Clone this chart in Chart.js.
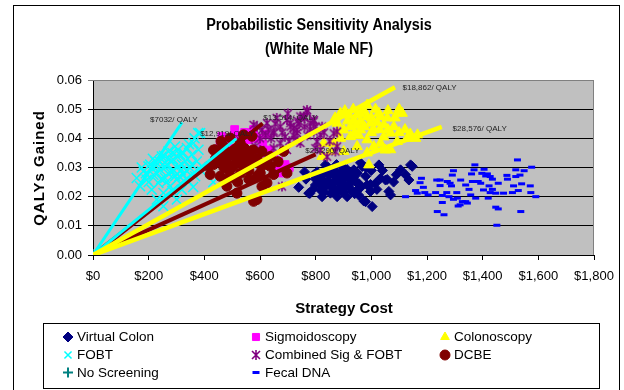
<!DOCTYPE html>
<html>
<head>
<meta charset="utf-8">
<script src="https://cdn.jsdelivr.net/npm/chart.js@4.4.1/dist/chart.umd.min.js"></script>
<style>
  html, body { margin: 0; padding: 0; background: #fff; }
</style>
</head>
<body>
<canvas id="psa" width="624" height="390"></canvas>
<script>
// PSA scatter - cost vs QALYs gained, one cloud per strategy, [cost, qaly]
const seriesNames = ['Virtual Colon', 'Sigmoidoscopy', 'Colonoscopy', 'FOBT',
  'Combined Sig & FOBT', 'DCBE', 'No Screening', 'Fecal DNA'];

const virtualColon = [
  [739,0.0232],[779,0.0211],[775,0.0212],[793,0.0275],[799,0.0240],[811,0.0263],[817,0.0223],
  [817,0.0269],[823,0.0200],[829,0.0235],[835,0.0309],[841,0.0280],[847,0.0252],[853,0.0212],
  [859,0.0292],[865,0.0229],[871,0.0269],[877,0.0200],[883,0.0246],[889,0.0280],[895,0.0218],
  [901,0.0257],[907,0.0235],[913,0.0200],[919,0.0275],[925,0.0246],[931,0.0218],[937,0.0292],
  [943,0.0252],[949,0.0223],[967,0.0303],[979,0.0183],[1003,0.0166],[985,0.0240],[997,0.0218],
  [1015,0.0246],[1027,0.0309],[1033,0.0263],[1051,0.0257],[1063,0.0218],[1069,0.0206],
  [1105,0.0292],[1123,0.0275],[1141,0.0309],[1135,0.0257],[913,0.0293],[925,0.0259],[973,0.0185],
  [1057,0.0259],[1147,0.0304],[997,0.0242],[961,0.0316],[805,0.0285],[830,0.0255],[850,0.0275],
  [865,0.0250],[880,0.0262],[895,0.0240],[905,0.0270],[860,0.0230],[840,0.0238],[885,0.0225],
  [920,0.0232],[935,0.0265],[955,0.0245],[870,0.0290],[900,0.0300],[955,0.0205],[830,0.0215],
  [765,0.0260],[760,0.0285],[845,0.0300],[875,0.0310],[910,0.0285],[950,0.0280],[980,0.0270],
  [1000,0.0290],[1040,0.0290],[1080,0.0250],[1090,0.0275],[1020,0.0225],[960,0.0230],[940,0.0210],
  [900,0.0215],[815,0.0245],[790,0.0225],[800,0.0260],[855,0.0245],[890,0.0260],[870,0.0215],
  [980,0.0300]
];
const sigmoidoscopy = [
  [457,0.0384],[463,0.0406],[509,0.0430],[577,0.0430],[673,0.0281],[661,0.0292],[649,0.0286],
  [679,0.0290],[667,0.0320],[480,0.0395],[520,0.0410],[545,0.0420],[560,0.0395],[590,0.0400],
  [610,0.0380],[630,0.0360],[650,0.0340],[600,0.0350],[540,0.0370],[500,0.0365],[620,0.0415],
  [690,0.0310],[705,0.0300],[470,0.0350],[565,0.0330]
];
const colonoscopy = [
  [889,0.0486],[919,0.0480],[949,0.0480],[985,0.0514],[1027,0.0486],[1033,0.0475],[1093,0.0486],
  [1111,0.0486],[1100,0.0500],[877,0.0452],[901,0.0429],[925,0.0440],[961,0.0458],[997,0.0452],
  [1009,0.0429],[1045,0.0446],[1069,0.0418],[985,0.0395],[949,0.0372],[1033,0.0383],[1093,0.0389],
  [1129,0.0400],[1159,0.0400],[1166,0.0412],[865,0.0383],[901,0.0355],[991,0.0309],[853,0.0355],
  [823,0.0338],[937,0.0463],[985,0.0475],[1009,0.0372],[1069,0.0361],[961,0.0429],[925,0.0406],
  [889,0.0400],[829,0.0383],[1057,0.0470],[973,0.0495],[1015,0.0500],[1081,0.0440],[1121,0.0430],
  [955,0.0410],[1045,0.0405],[870,0.0470],[905,0.0495],[935,0.0500],[960,0.0485],[1000,0.0470],
  [1060,0.0495],[1085,0.0470],[915,0.0460],[945,0.0445],[975,0.0440],[1020,0.0455],[1000,0.0420],
  [1030,0.0430],[940,0.0420],[880,0.0420],[1060,0.0430],[1100,0.0420],[1140,0.0415],[985,0.0350],
  [1050,0.0360]
];
const fobt = [
  [157,0.0264],[169,0.0236],[181,0.0287],[193,0.0258],[199,0.0304],[211,0.0224],[217,0.0275],
  [223,0.0321],[229,0.0190],[235,0.0247],[241,0.0292],[247,0.0338],[253,0.0213],[259,0.0264],
  [265,0.0310],[271,0.0355],[277,0.0236],[283,0.0287],[289,0.0327],[295,0.0372],[301,0.0258],
  [307,0.0304],[313,0.0344],[319,0.0224],[325,0.0275],[331,0.0321],[337,0.0367],[343,0.0253],
  [349,0.0298],[355,0.0344],[361,0.0384],[367,0.0270],[373,0.0321],[379,0.0361],[385,0.0418],
  [391,0.0287],[253,0.0167],[215,0.0330],[301,0.0190],[378,0.0418],[360,0.0233],[432,0.0250],
  [396,0.0300],[260,0.0300],[280,0.0320],[300,0.0340],[320,0.0310],[290,0.0290],[270,0.0280],
  [310,0.0270],[340,0.0330],[250,0.0310],[230,0.0280],[175,0.0300],[190,0.0280],[205,0.0310],
  [220,0.0300],[240,0.0320],[255,0.0340],[275,0.0330],[285,0.0350],[305,0.0360],[325,0.0350],
  [335,0.0290],[355,0.0310],[245,0.0260],[265,0.0250],[295,0.0270],[315,0.0290],[345,0.0380],
  [365,0.0400],[200,0.0250],[285,0.0220]
];
const combinedSigFobt = [
  [577,0.0446],[607,0.0429],[625,0.0452],[649,0.0418],[673,0.0440],[697,0.0463],[721,0.0435],
  [745,0.0475],[769,0.0491],[781,0.0452],[793,0.0423],[805,0.0389],[817,0.0360],[841,0.0337],
  [865,0.0417],[877,0.0372],[673,0.0383],[649,0.0366],[697,0.0360],[727,0.0395],[679,0.0235],
  [601,0.0360],[619,0.0337],[733,0.0418],[793,0.0458],[823,0.0440],[589,0.0440],[649,0.0424],
  [709,0.0452],[745,0.0384],[583,0.0372],[769,0.0497],[757,0.0475],[793,0.0463],[877,0.0423],
  [799,0.0366],[871,0.0355],[733,0.0429],[817,0.0412],[660,0.0470],[700,0.0485],[735,0.0460],
  [760,0.0440],[690,0.0405],[720,0.0410],[640,0.0400],[620,0.0410],[770,0.0410],[600,0.0400],
  [630,0.0430],[680,0.0420],[710,0.0440],[740,0.0450],[780,0.0430],[800,0.0440],[830,0.0420],
  [850,0.0390],[705,0.0390],[655,0.0450],[760,0.0470]
];
const dcbe = [
  [439,0.0361],[457,0.0338],[469,0.0372],[481,0.0315],[505,0.0355],[517,0.0327],[529,0.0384],
  [541,0.0304],[559,0.0344],[571,0.0407],[577,0.0321],[589,0.0270],[607,0.0355],[619,0.0310],
  [637,0.0338],[589,0.0190],[481,0.0236],[457,0.0270],[421,0.0276],[433,0.0310],[493,0.0401],
  [541,0.0412],[601,0.0281],[649,0.0276],[625,0.0247],[505,0.0264],[433,0.0360],[415,0.0304],
  [517,0.0212],[577,0.0184],[607,0.0235],[637,0.0304],[697,0.0281],[685,0.0355],[450,0.0320],
  [470,0.0300],[490,0.0340],[510,0.0310],[530,0.0330],[550,0.0320],[560,0.0290],[490,0.0290],
  [530,0.0280],[460,0.0390],[520,0.0360],[545,0.0365],[665,0.0320],[575,0.0360],[440,0.0330],
  [470,0.0330],[500,0.0300],[540,0.0340],[590,0.0330],[600,0.0310],[520,0.0250],[560,0.0260],
  [480,0.0260]
];
const noScreening = [[0, 0]];
const fecalDna = [
  [1123,0.0200],[1159,0.0221],[1165,0.0212],[1180,0.0263],[1175,0.0248],[1187,0.0232],[1192,0.0214],
  [1204,0.0206],[1231,0.0214],[1235,0.0257],[1247,0.0257],[1247,0.0238],[1255,0.0204],[1273,0.0252],
  [1283,0.0246],[1288,0.0237],[1279,0.0200],[1271,0.0214],[1291,0.0274],[1295,0.0289],[1307,0.0214],
  [1309,0.0195],[1295,0.0191],[1321,0.0257],[1339,0.0240],[1351,0.0225],[1363,0.0252],[1360,0.0278],
  [1372,0.0309],[1369,0.0292],[1357,0.0206],[1339,0.0183],[1345,0.0178],[1327,0.0183],[1319,0.0172],
  [1255,0.0180],[1237,0.0149],[1261,0.0138],[1375,0.0195],[1384,0.0252],[1393,0.0246],[1397,0.0280],
  [1405,0.0294],[1411,0.0271],[1417,0.0278],[1427,0.0269],[1423,0.0237],[1435,0.0225],[1427,0.0214],
  [1447,0.0212],[1456,0.0246],[1420,0.0195],[1435,0.0260],[1403,0.0223],[1447,0.0164],[1456,0.0158],
  [1451,0.0102],[1475,0.0212],[1487,0.0273],[1489,0.0260],[1507,0.0214],[1511,0.0237],[1519,0.0269],
  [1525,0.0326],[1534,0.0274],[1519,0.0292],[1528,0.0221],[1540,0.0244],[1549,0.0289],[1571,0.0237],
  [1573,0.0214],[1576,0.0301],[1591,0.0200],[1537,0.0149],[1312,0.0168]
];

// ICER lines from the origin, with their labels
const icerCost = [320, 515, 610, 800, 1085, 1253];
const icerQaly = [0.0455, 0.0399, 0.0451, 0.0345, 0.0575, 0.0439];
const icerText = ['$7032/ QALY', '$12,919/ QALY', '$13,514/ QALY', '$23,290/ QALY', '$18,862/ QALY', '$28,576/ QALY'];

const xTicks = [0, 200, 400, 600, 800, 1000, 1200, 1400, 1600, 1800];
const yTicks = [0, 0.01, 0.02, 0.03, 0.04, 0.05, 0.06];

const FONT = '"Liberation Sans", Arial, sans-serif';
const pts = arr => arr.map(([x, y]) => ({ x, y }));

// Excel style asterisk (x with a vertical bar)
function asterisk(color, r) {
  const c = document.createElement('canvas');
  c.width = c.height = r * 2 + 2;
  const g = c.getContext('2d');
  const m = r + 1;
  g.strokeStyle = color;
  g.lineWidth = 1.6;
  g.beginPath();
  g.moveTo(m, m - r); g.lineTo(m, m + r);
  const d = r * 0.8;
  g.moveTo(m - d, m - d); g.lineTo(m + d, m + d);
  g.moveTo(m + d, m - d); g.lineTo(m - d, m + d);
  g.stroke();
  return c;
}

function markers(data, color, style, radius, extra) {
  return Object.assign({
    data: pts(data),
    backgroundColor: color,
    borderColor: color,
    borderWidth: 1,
    pointStyle: style,
    pointRadius: radius,
    showLine: false
  }, extra || {});
}

function icerLine(i, color, width) {
  return {
    data: [{ x: 0, y: 0 }, { x: icerCost[i], y: icerQaly[i] }],
    showLine: true,
    borderColor: color,
    borderWidth: width,
    pointRadius: 0,
    borderCapStyle: 'butt',
    order: color === '#FFFF00' ? 0 : 1
  };
}

const datasets = [
  markers(virtualColon, '#000080', 'rectRot', 5, { label: seriesNames[0], order: 9 }),
  markers(sigmoidoscopy, '#FF00FF', 'rect', 5.5, { label: seriesNames[1], order: 8 }),
  markers(colonoscopy, '#FFFF00', 'triangle', 6, { label: seriesNames[2], order: 7 }),
  markers(fobt, '#00FFFF', 'crossRot', 7, { label: seriesNames[3], order: 6, borderWidth: 1.5 }),
  markers(combinedSigFobt, '#800080', asterisk('#800080', 5), 5, { label: seriesNames[4], order: 5 }),
  markers(dcbe, '#800000', 'circle', 5, { label: seriesNames[5], order: 4 }),
  markers(noScreening, '#008080', 'cross', 6, { label: seriesNames[6], order: 3, borderWidth: 2 }),
  markers(fecalDna, '#0000FF', 'line', 3.5, { label: seriesNames[7], order: 2, borderWidth: 3 }),
  icerLine(0, '#00FFFF', 3),
  icerLine(1, '#00FFFF', 3),
  icerLine(2, '#800000', 4),
  icerLine(3, '#800000', 4),
  icerLine(4, '#FFFF00', 4.5),
  icerLine(5, '#FFFF00', 4.5)
];

// grey plot area, grey top/right border, outer chart frame
const frame = {
  id: 'frame',
  beforeDraw(chart) {
    const { ctx, chartArea: a } = chart;
    ctx.save();
    ctx.fillStyle = '#fff';
    ctx.fillRect(0, 0, chart.width, chart.height);
    ctx.fillStyle = '#C0C0C0';
    ctx.fillRect(a.left, a.top, a.right - a.left, a.bottom - a.top);
    ctx.strokeStyle = '#000';
    ctx.lineWidth = 1;
    ctx.strokeRect(13.5, 5.5, 606, 400);
    ctx.restore();
  },
  beforeDatasetsDraw(chart) {
    const { ctx, chartArea: a } = chart;
    ctx.save();
    ctx.strokeStyle = '#808080';
    ctx.lineWidth = 1;
    ctx.beginPath();
    ctx.moveTo(a.left, a.top + 0.5);
    ctx.lineTo(a.right - 0.5, a.top + 0.5);
    ctx.lineTo(a.right - 0.5, a.bottom);
    ctx.stroke();
    ctx.restore();
  }
};

// titles, axis titles and ICER labels
const labelAt = [[205, 0.0463], [385, 0.0415], [612, 0.0470], [763, 0.0357], [1112, 0.0573], [1292, 0.0432]];
const texts = {
  id: 'texts',
  afterDatasetsDraw(chart) {
    const { ctx, scales: { x, y } } = chart;
    ctx.save();
    ctx.fillStyle = '#222';
    ctx.font = '8px ' + FONT;
    ctx.textBaseline = 'middle';
    ctx.textAlign = 'left';
    icerText.forEach((t, i) => {
      ctx.fillText(t, x.getPixelForValue(labelAt[i][0]), y.getPixelForValue(labelAt[i][1]));
    });
    ctx.restore();
  },
  afterDraw(chart) {
    const ctx = chart.ctx;
    ctx.save();
    ctx.fillStyle = '#000';
    ctx.textAlign = 'center';
    ctx.textBaseline = 'middle';
    // condensed bold title
    ctx.font = 'bold 16px ' + FONT;
    ctx.save();
    ctx.translate(319, 0);
    ctx.scale(0.9, 1);
    ctx.fillText('Probabilistic Sensitivity Analysis', 0, 26);
    ctx.fillText('(White Male NF)', 0, 50);
    ctx.restore();
    ctx.font = 'bold 15px ' + FONT;
    ctx.fillText('Strategy Cost', 344, 309);
    ctx.save();
    ctx.translate(40, 168);
    ctx.rotate(-Math.PI / 2);
    ctx.letterSpacing = '1px';
    ctx.fillText('QALYs Gained', 0, 0);
    ctx.restore();
    ctx.restore();
  }
};

// Excel style legend box, 3 columns, row by row
const legendBox = {
  id: 'legendBox',
  afterDraw(chart) {
    const ctx = chart.ctx;
    const cols = [68, 256, 445];
    const rows = [337, 355, 372.5];
    ctx.save();
    ctx.strokeStyle = '#000';
    ctx.lineWidth = 1;
    ctx.strokeRect(43.5, 323.5, 556, 65);
    ctx.font = '13.5px ' + FONT;
    ctx.textBaseline = 'middle';
    ctx.textAlign = 'left';
    seriesNames.forEach((name, i) => {
      const ds = chart.data.datasets[i];
      const cx = cols[i % 3];
      const cy = rows[Math.floor(i / 3)];
      ctx.fillStyle = ds.backgroundColor;
      ctx.strokeStyle = ds.borderColor;
      ctx.lineWidth = ds.borderWidth;
      Chart.helpers.drawPoint(ctx, {
        pointStyle: ds.pointStyle,
        radius: Math.min(ds.pointRadius, 5),
        rotation: 0,
        borderWidth: ds.borderWidth
      }, cx, cy);
      ctx.fillStyle = '#000';
      ctx.fillText(name, cx + 9, cy + 0.5);
    });
    ctx.restore();
  }
};

new Chart(document.getElementById('psa'), {
  type: 'scatter',
  data: { datasets },
  options: {
    responsive: false,
    animation: false,
    events: [],
    layout: { padding: { left: 13, right: 30, top: 80, bottom: 105 } },
    plugins: {
      legend: { display: false },
      tooltip: { enabled: false }
    },
    scales: {
      x: {
        type: 'linear',
        min: 0,
        max: 1800,
        afterBuildTicks: s => { s.ticks = xTicks.map(v => ({ value: v })); },
        afterFit: s => { s.height = 30; },
        ticks: {
          color: '#000',
          padding: 9,
          maxRotation: 0,
          font: { family: FONT, size: 13 },
          callback: v => '$' + v.toLocaleString('en-US')
        },
        grid: { drawOnChartArea: false, color: '#000', tickLength: 5 },
        border: { color: '#000' }
      },
      y: {
        type: 'linear',
        min: 0,
        max: 0.06,
        afterBuildTicks: s => { s.ticks = yTicks.map(v => ({ value: v })); },
        afterFit: s => { s.width = 80; },
        ticks: {
          color: '#000',
          padding: 6,
          font: { family: FONT, size: 13 },
          callback: v => v.toFixed(2)
        },
        grid: {
          color: c => (c.tick && c.tick.value >= 0.06 ? '#808080' : '#000'),
          tickLength: 5
        },
        border: { color: '#000' }
      }
    }
  },
  plugins: [frame, texts, legendBox]
});
</script>
</body>
</html>
